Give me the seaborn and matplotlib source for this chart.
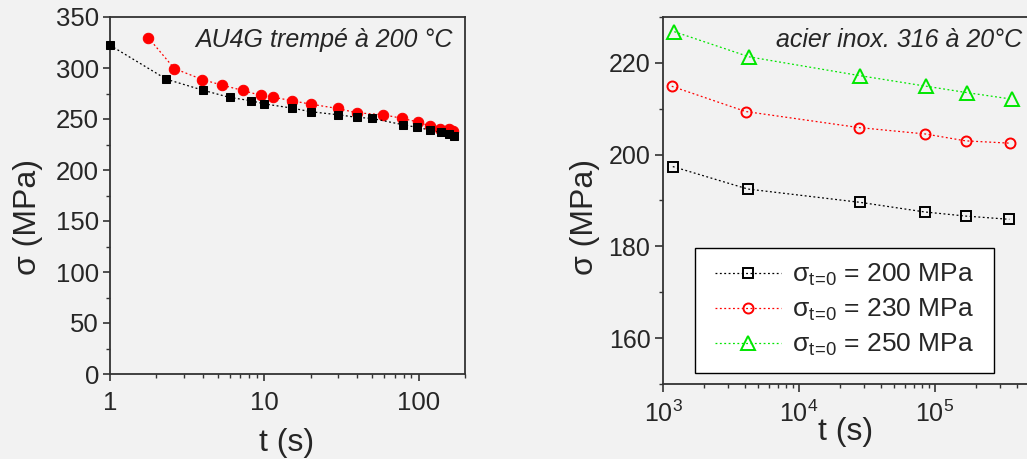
import numpy as np
import pandas as pd
import seaborn as sns
import matplotlib
matplotlib.use("Agg")
import matplotlib.pyplot as plt
from matplotlib.patches import Rectangle
from matplotlib.ticker import FixedLocator, MultipleLocator, LogLocator, LogFormatterMathtext, NullFormatter

# ---- data: AU4G quenched, 200 °C ----
au_t_sq = [1.0, 2.32, 3.99, 5.98, 8.24, 9.93, 15.1, 20.1, 29.9, 40.0, 49.8, 79.2, 97.7, 119, 139, 157, 169]
au_s_sq = [322.3, 289.0, 278.3, 271.1, 267.9, 264.9, 260.7, 257.1, 254.2, 251.6, 250.6, 244.4, 241.8, 239.2, 236.9, 235.3, 233.7]
au_t_ci = [1.77, 2.61, 3.96, 5.33, 7.26, 9.51, 11.4, 15.1, 19.95, 29.9, 39.7, 59.0, 78.5, 99.3, 119, 138, 158, 167]
au_s_ci = [329.8, 299.5, 288.7, 283.2, 278.0, 273.1, 271.5, 267.9, 264.6, 260.3, 256.1, 254.2, 250.6, 247.0, 243.1, 240.2, 239.8, 237.9]

# ---- data: stainless steel 316, 20 °C ----
ss_t_200 = [1180, 4200, 28100, 84300, 169000, 352000]
ss_s_200 = [197.4, 192.5, 189.6, 187.5, 186.6, 185.9]
ss_t_230 = [1160, 4050, 27500, 84900, 168000, 354000]
ss_s_230 = [214.9, 209.4, 205.9, 204.5, 203.0, 202.5]
ss_t_250 = [1210, 4320, 28200, 86500, 173000, 366000]
ss_s_250 = [226.8, 221.3, 217.2, 214.9, 213.5, 212.1]

left_xticks = [1, 10, 100]
left_xticklabels = ["1", "10", "100"]
SUB = r"$_{\mathrm{t}\!=\!\mathrm{0}}$"
legend_labels = ["σ" + SUB + " = 200 MPa", "σ" + SUB + " = 230 MPa", "σ" + SUB + " = 250 MPa"]

sns.set_style("ticks")
plt.rcParams["font.family"] = ["Liberation Sans", "DejaVu Sans"]
plt.rcParams["mathtext.fontset"] = "custom"
plt.rcParams["mathtext.rm"] = "Liberation Sans"
plt.rcParams["mathtext.it"] = "Liberation Sans:italic"
plt.rcParams["mathtext.sf"] = "Liberation Sans"

BG = "#f2f2f2"
SP = "#333333"
GREEN = "#00e600"
fig = plt.figure(figsize=(10.27, 4.59), dpi=100, facecolor=BG)

W, H = 1027, 459
RW = 1032 - 663
axL = fig.add_axes([110 / W, (H - 374) / H, 355 / W, 357 / H], facecolor=BG)
axR = fig.add_axes([663 / W, (H - 384) / H, RW / W, 367 / H], facecolor=BG)

LS = (0, (1.5, 2))

# ---- left plot ----
dfA = pd.DataFrame({"t": au_t_sq, "s": au_s_sq})
dfB = pd.DataFrame({"t": au_t_ci, "s": au_s_ci})
sns.lineplot(data=dfA, x="t", y="s", ax=axL, estimator=None, color="black", lw=0.9,
             linestyle=LS, marker="s", markersize=6.3, clip_on=False,
             markeredgecolor="black", markerfacecolor="black", zorder=3)
sns.lineplot(data=dfB, x="t", y="s", ax=axL, estimator=None, color="red", lw=0.9,
             linestyle=LS, marker="o", markersize=7.5, clip_on=False,
             markeredgecolor="red", markerfacecolor="red", zorder=2)
axL.set_xscale("log")
axL.set_xlim(1, 200)
axL.set_ylim(0, 350)
axL.xaxis.set_major_locator(FixedLocator(left_xticks))
axL.set_xticklabels(left_xticklabels)
axL.xaxis.set_minor_locator(LogLocator(base=10, subs=np.arange(2, 10)))
axL.xaxis.set_minor_formatter(NullFormatter())
axL.yaxis.set_major_locator(MultipleLocator(50))
axL.yaxis.set_minor_locator(MultipleLocator(25))
axL.set_xlabel("t (s)", fontsize=23)
axL.set_ylabel("σ (MPa)", fontsize=23)
axL.xaxis.set_label_coords(0.496, -0.15)
axL.yaxis.set_label_coords(-0.19, 0.44)
axL.text(0.966, 0.935, "AU4G trempé à 200 °C", transform=axL.transAxes, ha="right",
         va="center", fontsize=18, style="italic")
axL.tick_params(axis="both", which="major", labelsize=18.5, length=5, width=1.2, color=SP, direction="out")
axL.tick_params(axis="x", which="major", pad=7)
axL.tick_params(axis="y", which="major", pad=3)
axL.tick_params(axis="both", which="minor", length=3, width=1, color=SP, direction="out")

# ---- right plot ----
styles = [
    (ss_t_200, ss_s_200, "black", "s", 6.5),
    (ss_t_230, ss_s_230, "red", "o", 7.2),
    (ss_t_250, ss_s_250, GREEN, "^", 9.5),
]
for (tt, ss, col, mk, ms), lab in zip(styles, legend_labels):
    df = pd.DataFrame({"t": tt, "s": ss})
    sns.lineplot(data=df, x="t", y="s", ax=axR, estimator=None, color=col, lw=0.9,
                 linestyle=LS, marker=mk, markersize=ms,
                 markeredgecolor=col, markerfacecolor="none", markeredgewidth=1.4,
                 label=lab)
axR.set_xscale("log")
axR.set_xlim(1e3, 10 ** (3 + RW / 136.0))
axR.set_ylim(150, 230)
axR.xaxis.set_major_locator(LogLocator(base=10, numticks=10))
axR.xaxis.set_major_formatter(LogFormatterMathtext())
axR.xaxis.set_minor_locator(LogLocator(base=10, subs=np.arange(2, 10), numticks=20))
axR.xaxis.set_minor_formatter(NullFormatter())
axR.yaxis.set_major_locator(MultipleLocator(20))
axR.yaxis.set_minor_locator(MultipleLocator(10))
axR.set_xlabel("t (s)", fontsize=23)
axR.set_ylabel("σ (MPa)", fontsize=23)
axR.xaxis.set_label_coords(0.496, -0.09)
axR.yaxis.set_label_coords(-0.171, 0.455)
axR.text(0.973, 0.937, "acier inox. 316 à 20°C", transform=axR.transAxes, ha="right",
         va="center", fontsize=18, style="italic")
axR.tick_params(axis="both", which="major", labelsize=18, length=6, width=1.2, color=SP, direction="out")
axR.tick_params(axis="x", which="major", pad=6)
axR.tick_params(axis="y", which="major", pad=3)
axR.tick_params(axis="both", which="minor", length=3, width=1, color=SP, direction="out")

# legend box
bx0, bx1, by0, by1 = 695, 994, 247.7, 372.7
axR.add_patch(Rectangle(((bx0 - 663) / RW, (384 - by1) / 367), (bx1 - bx0) / RW, (by1 - by0) / 367,
                        transform=axR.transAxes, facecolor="white", edgecolor="black",
                        linewidth=1.0, zorder=4))
leg = axR.legend(loc="center", bbox_to_anchor=(((bx0 + bx1) / 2 - 663) / RW, (384 - (by0 + by1) / 2) / 367),
                 fontsize=19, frameon=False, handlelength=2.5, numpoints=1, labelspacing=0.33,
                 borderpad=0, handletextpad=0.4, borderaxespad=0)
leg.set_zorder(5)

for ax in (axL, axR):
    for sp in ax.spines.values():
        sp.set_color(SP)
        sp.set_linewidth(1.3)

fig.savefig("out.png", dpi=100, facecolor=BG)
